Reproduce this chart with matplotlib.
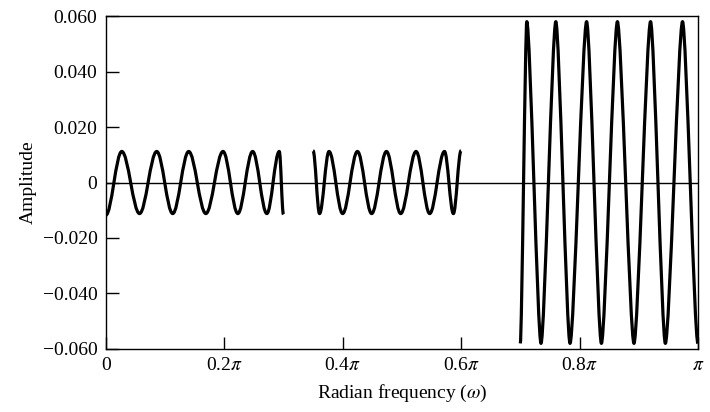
import matplotlib.pyplot as plt
from matplotlib.path import Path
from matplotlib.patches import PathPatch

plt.rcParams['font.family'] = ['Liberation Serif', 'DejaVu Serif']
plt.rcParams['mathtext.fontset'] = 'stix'

# extrema of the approximation error, frequency in units of pi
band1_w = [0.0, 0.027, 0.057, 0.086, 0.113, 0.140, 0.169, 0.198, 0.223, 0.248, 0.272, 0.293, 0.300]
band1_amp = [-0.0118, 0.0112, -0.0112, 0.0112, -0.0112, 0.0112, -0.0112, 0.0112, -0.0112,
             0.0112, -0.0112, 0.0112, -0.0115]

band2_w = [0.350, 0.361, 0.377, 0.400, 0.425, 0.449, 0.474, 0.498, 0.524, 0.547, 0.572, 0.587, 0.600]
band2_amp = [0.0115, -0.0112, 0.0112, -0.0112, 0.0112, -0.0112, 0.0112, -0.0112, 0.0112,
             -0.0112, 0.0112, -0.0112, 0.0115]

band3_w = [0.700, 0.711, 0.735, 0.760, 0.784, 0.812, 0.837, 0.864, 0.892, 0.920, 0.945, 0.974, 1.000]
band3_amp = [-0.058, 0.058, -0.058, 0.058, -0.058, 0.058, -0.058, 0.058, -0.058, 0.058,
             -0.058, 0.058, -0.058]

xtick_pos = [0, 0.2, 0.4, 0.6, 0.8, 1.0]
xtick_labels = ['0', r'0.2$\pi$', r'0.4$\pi$', r'0.6$\pi$', r'0.8$\pi$', r'$\pi$']
ytick_pos = [-0.06, -0.04, -0.02, 0, 0.02, 0.04, 0.06]
ytick_labels = ['\u22120.060', '\u22120.040', '\u22120.020', '0', '0.020', '0.040', '0.060']


def ripple_path(w, a, k=0.3634):
    """
    Smooth curve through the extrema: cubic segments with flat tangents at each extremum.
    Smaller k gives pointier tips.
    """
    verts = [(w[0], a[0])]
    codes = [Path.MOVETO]
    for i in range(len(w) - 1):
        dx = w[i + 1] - w[i]
        verts += [(w[i] + k * dx, a[i]), (w[i + 1] - k * dx, a[i + 1]), (w[i + 1], a[i + 1])]
        codes += [Path.CURVE4] * 3
    return Path(verts, codes)


fig = plt.figure(figsize=(7.1, 4.12), dpi=100)
ax = fig.add_axes([0.149, 0.153, 0.834, 0.808])

ax.axhline(0, color='black', lw=1.0, zorder=1)

for w, a, k in [(band1_w, band1_amp, 0.36), (band2_w, band2_amp, 0.36), (band3_w, band3_amp, 0.24)]:
    patch = PathPatch(ripple_path(w, a, k), facecolor='none', edgecolor='black',
                      lw=2.3, joinstyle='round', capstyle='butt', zorder=2)
    ax.add_patch(patch)

ax.set_xlim(0, 1)
ax.set_ylim(-0.06, 0.06)
ax.set_xticks(xtick_pos)
ax.set_xticklabels(xtick_labels)
ax.set_yticks(ytick_pos)
ax.set_yticklabels(ytick_labels)
ax.tick_params(direction='in', length=9, width=1.0, labelsize=14, pad=6)
for s in ax.spines.values():
    s.set_linewidth(1.0)

ax.set_xlabel(r'Radian frequency ($\omega$)', fontsize=14, labelpad=6)
ax.set_ylabel('Amplitude', fontsize=14, labelpad=4)

fig.savefig('out.png', dpi=100)
